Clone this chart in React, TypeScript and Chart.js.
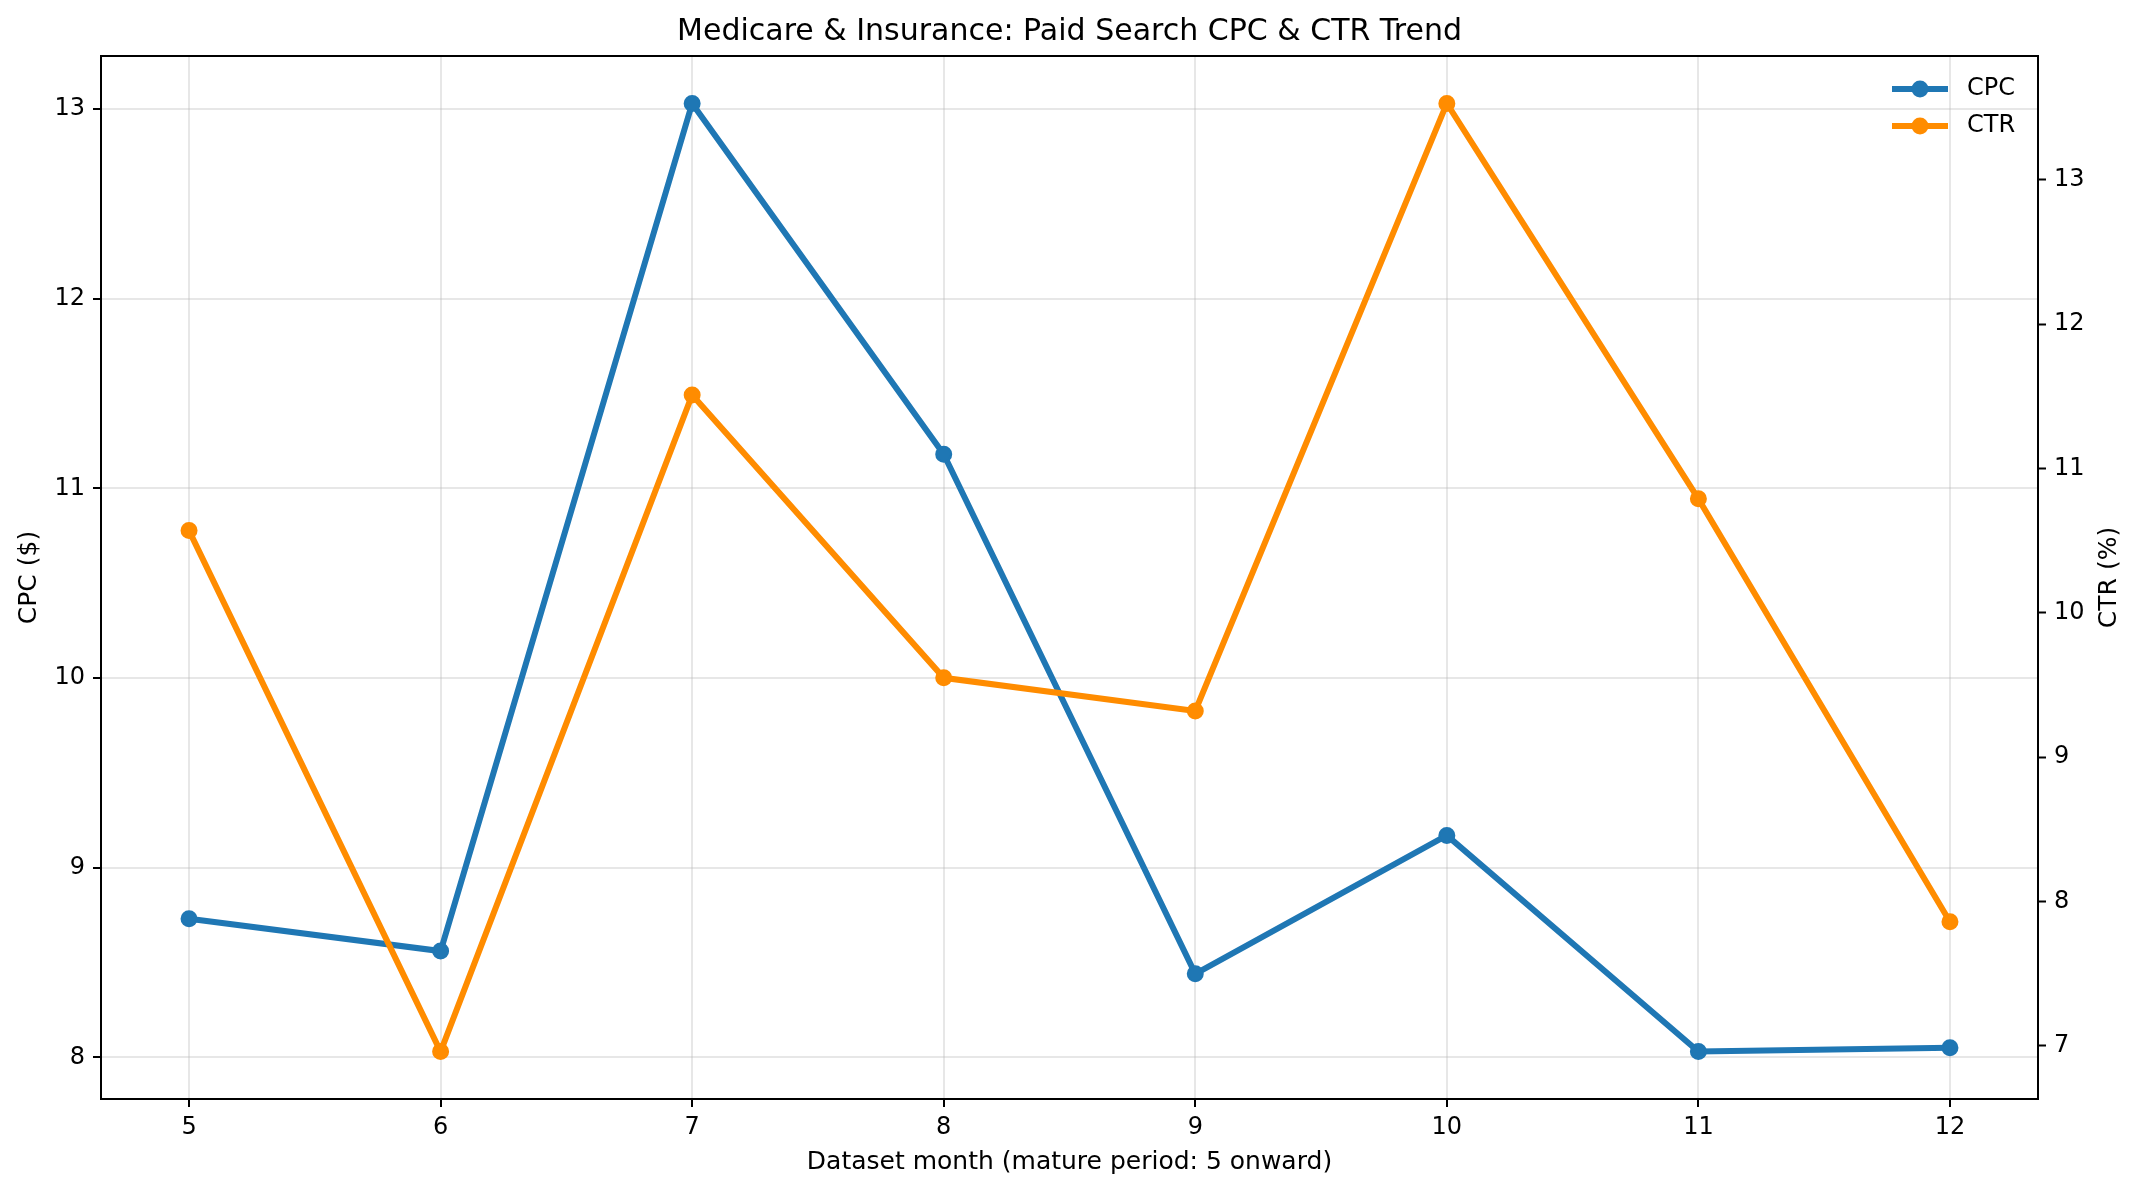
import { useEffect, useRef } from "react";
import { Chart, registerables } from "chart.js";

Chart.register(...registerables);

const FONT = "'DejaVu Sans', sans-serif";

const months = [5, 6, 7, 8, 9, 10, 11, 12];
const cpc = [8.73, 8.56, 13.03, 11.18, 8.44, 9.17, 8.03, 8.05];
const ctr = [10.57, 6.96, 11.51, 9.55, 9.32, 13.53, 10.79, 7.86];

const xTicks = [5, 6, 7, 8, 9, 10, 11, 12];
const cpcTicks = [8, 9, 10, 11, 12, 13];
const ctrTicks = [7, 8, 9, 10, 11, 12, 13];

const TITLE = "Medicare & Insurance: Paid Search CPC & CTR Trend";
const X_LABEL = "Dataset month (mature period: 5 onward)";
const CPC_LABEL = "CPC ($)";
const CTR_LABEL = "CTR (%)";

const BLUE = "#1f77b4";
const ORANGE = "#ff8c00";
const GRID = "rgba(176,176,176,0.3)";

// matplotlib-style 5% margins
function padded(values: number[]) {
  const lo = Math.min(...values);
  const hi = Math.max(...values);
  const m = (hi - lo) * 0.05;
  return { min: lo - m, max: hi + m };
}

const decorations = {
  id: "decorations",
  afterDraw(chart: any) {
    const { ctx, chartArea: a } = chart;
    const midX = (a.left + a.right) / 2;
    const midY = (a.top + a.bottom) / 2;
    ctx.save();

    ctx.strokeStyle = "#000";
    ctx.lineWidth = 2;
    ctx.strokeRect(a.left, a.top, a.right - a.left, a.bottom - a.top);

    ctx.fillStyle = "#000";
    ctx.textAlign = "center";
    ctx.font = `30px ${FONT}`;
    ctx.textBaseline = "alphabetic";
    ctx.fillText(TITLE, midX, a.top - 16);

    ctx.font = `25px ${FONT}`;
    ctx.textBaseline = "middle";
    ctx.fillText(X_LABEL, midX, a.bottom + 63);

    ctx.save();
    ctx.translate(29, midY);
    ctx.rotate(-Math.PI / 2);
    ctx.fillText(CPC_LABEL, 0, 0);
    ctx.restore();

    ctx.save();
    ctx.translate(2109, midY);
    ctx.rotate(-Math.PI / 2);
    ctx.fillText(CTR_LABEL, 0, 0);
    ctx.restore();

    // legend, upper right, no frame
    const entries = [
      { label: "CPC", color: BLUE, y: 89 },
      { label: "CTR", color: ORANGE, y: 126 },
    ];
    ctx.font = `24px ${FONT}`;
    ctx.textAlign = "left";
    for (const e of entries) {
      ctx.strokeStyle = e.color;
      ctx.lineWidth = 6;
      ctx.beginPath();
      ctx.moveTo(1892, e.y);
      ctx.lineTo(1948, e.y);
      ctx.stroke();
      ctx.fillStyle = e.color;
      ctx.beginPath();
      ctx.arc(1920, e.y, 8.5, 0, Math.PI * 2);
      ctx.fill();
      ctx.fillStyle = "#000";
      ctx.fillText(e.label, 1967, e.y);
    }
    ctx.restore();
  },
};

export default function App() {
  const canvasRef = useRef<HTMLCanvasElement>(null);

  useEffect(() => {
    document.body.style.margin = "0";
    if (!canvasRef.current) return;

    Chart.defaults.font.family = FONT;
    Chart.defaults.font.size = 24;
    Chart.defaults.color = "#000";

    const xr = padded(months);
    const cr = padded(cpc);
    const tr = padded(ctr);

    const tickFont = { size: 24, family: FONT };

    const chart = new Chart(canvasRef.current, {
      type: "line",
      data: {
        datasets: [
          {
            label: "CPC",
            data: months.map((m, i) => ({ x: m, y: cpc[i] })),
            borderColor: BLUE,
            backgroundColor: BLUE,
            pointBackgroundColor: BLUE,
            pointBorderColor: BLUE,
            borderWidth: 6,
            pointRadius: 7.5,
            pointBorderWidth: 2,
            yAxisID: "y",
            order: 1,
          },
          {
            label: "CTR",
            data: months.map((m, i) => ({ x: m, y: ctr[i] })),
            borderColor: ORANGE,
            backgroundColor: ORANGE,
            pointBackgroundColor: ORANGE,
            pointBorderColor: ORANGE,
            borderWidth: 6,
            pointRadius: 7.5,
            pointBorderWidth: 2,
            yAxisID: "y1",
            order: 0,
          },
        ],
      },
      options: {
        animation: false,
        responsive: true,
        maintainAspectRatio: false,
        layout: { padding: { top: 56, left: 0, right: 0, bottom: 0 } },
        plugins: {
          legend: { display: false },
          title: { display: false },
          tooltip: { enabled: false },
        },
        scales: {
          x: {
            type: "linear",
            min: xr.min,
            max: xr.max,
            afterBuildTicks: (s: any) => {
              s.ticks = xTicks.map((v) => ({ value: v }));
            },
            afterFit: (s: any) => {
              s.height = 93;
            },
            border: { display: false },
            grid: {
              color: GRID,
              lineWidth: 2,
              tickColor: "#000",
              tickWidth: 2,
              tickLength: 8,
            },
            ticks: { font: tickFont, padding: 6, maxRotation: 0, autoSkip: false },
          },
          y: {
            type: "linear",
            position: "left",
            min: cr.min,
            max: cr.max,
            afterBuildTicks: (s: any) => {
              s.ticks = cpcTicks.map((v) => ({ value: v }));
            },
            afterFit: (s: any) => {
              s.width = 101;
            },
            border: { display: false },
            grid: {
              color: GRID,
              lineWidth: 2,
              tickColor: "#000",
              tickWidth: 2,
              tickLength: 8,
            },
            ticks: { font: tickFont, padding: 8, autoSkip: false },
          },
          y1: {
            type: "linear",
            position: "right",
            min: tr.min,
            max: tr.max,
            afterBuildTicks: (s: any) => {
              s.ticks = ctrTicks.map((v) => ({ value: v }));
            },
            afterFit: (s: any) => {
              s.width = 101;
            },
            border: { display: false },
            grid: {
              drawOnChartArea: false,
              tickColor: "#000",
              tickWidth: 2,
              tickLength: 8,
            },
            ticks: { font: tickFont, padding: 8, autoSkip: false },
          },
        },
      },
      plugins: [decorations],
    });

    return () => {
      chart.destroy();
    };
  }, []);

  return (
    <div style={{ width: 2139, height: 1192, position: "relative", background: "#fff" }}>
      <canvas ref={canvasRef}></canvas>
    </div>
  );
}
